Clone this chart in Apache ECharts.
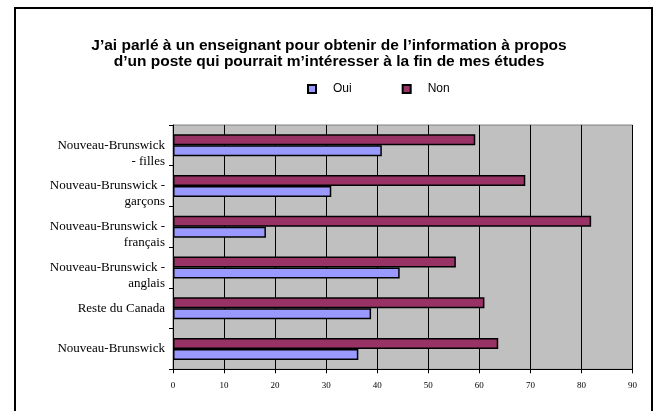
<!DOCTYPE html>
<html><head><meta charset="utf-8">
<script src="https://cdn.jsdelivr.net/npm/echarts@6/dist/echarts.min.js"></script>
<style>html,body{margin:0;padding:0;background:#fff}#c{width:658px;height:411px}</style>
</head><body><div id="c"></div>
<script>
const categories = ['Nouveau-Brunswick', 'Reste du Canada', 'Nouveau-Brunswick -\nanglais', 'Nouveau-Brunswick -\nfrançais', 'Nouveau-Brunswick -\ngarçons', 'Nouveau-Brunswick\n- filles'];
const oui = [36.3, 38.8, 44.4, 18.2, 31.0, 40.9];
const non = [63.7, 61.0, 55.4, 81.9, 69.0, 59.2];
const xTicks = [0, 10, 20, 30, 40, 50, 60, 70, 80, 90];

const chart = echarts.init(document.getElementById('c'), null, {renderer: 'canvas'});
chart.setOption({
  animation: false,
  backgroundColor: '#fff',
  title: {
    text: 'J’ai parlé à un enseignant pour obtenir de l’information à propos\nd’un poste qui pourrait m’intéresser à la fin de mes études',
    left: 'center', top: 33,
    textStyle: { fontFamily: 'Liberation Sans, Arial', fontWeight: 'bold', fontSize: 15.5, lineHeight: 16, color: '#000' }
  },
  legend: {
    left: 302, top: 78, itemWidth: 8, itemHeight: 8, itemGap: 50, icon: 'rect',
    data: ['Oui', 'Non'],
    textStyle: { fontFamily: 'Liberation Sans, Arial', fontSize: 12, color: '#000', padding: [0, 0, 0, 12] }
  },
  graphic: [{
    type: 'rect', shape: { x: 15, y: 8, width: 637, height: 420 },
    style: { fill: 'none', stroke: '#000', lineWidth: 2 }, z: 100
  }],
  grid: { left: 173, right: 25.5, top: 125, bottom: 41.7, show: true, backgroundColor: '#C0C0C0', borderColor: '#808080', borderWidth: 1 },
  xAxis: {
    type: 'value', min: xTicks[0], max: xTicks[xTicks.length - 1], interval: 10,
    axisLine: { show: true, lineStyle: { color: '#000', width: 1 } },
    axisTick: { show: true, length: 4, lineStyle: { color: '#000' } },
    splitLine: { show: true, lineStyle: { color: '#000', width: 1 } },
    axisLabel: { fontFamily: 'Liberation Serif, Times New Roman', fontSize: 9, color: '#000', margin: 12 }
  },
  yAxis: {
    type: 'category', data: categories,
    axisLine: { show: true, lineStyle: { color: '#000', width: 1 } },
    axisTick: { show: true, length: 4, lineStyle: { color: '#000' } },
    axisLabel: {
      interval: 0, hideOverlap: false,
      fontFamily: 'Liberation Serif, Times New Roman', fontSize: 13, lineHeight: 16, color: '#000', margin: 8, align: 'right',
      formatter: v => v.indexOf('\n') >= 0 ? ' \n' + v : v
    }
  },
  series: [
    { name: 'Non', type: 'bar', data: non, barWidth: 11, barGap: '0%',
      itemStyle: { color: '#993366', borderColor: '#000', borderWidth: 1.5 } },
    { name: 'Oui', type: 'bar', data: oui, barWidth: 11, barGap: '0%',
      itemStyle: { color: '#9999FF', borderColor: '#000', borderWidth: 1.5 } }
  ]
});
</script></body></html>
